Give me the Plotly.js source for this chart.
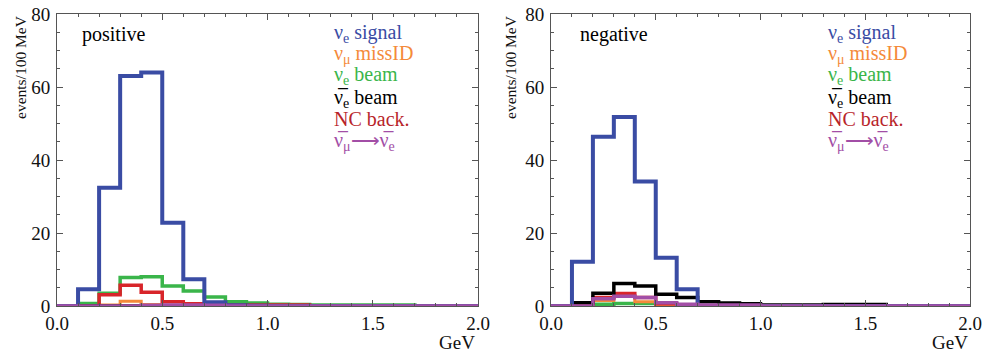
<!DOCTYPE html>
<html><head><meta charset="utf-8">
<script src="https://cdn.plot.ly/plotly-3.0.1.min.js"></script>
<style>html,body{margin:0;padding:0;background:#fff}#c{width:983px;height:356px}</style>
</head><body><div id="c"></div>
<script>
// bin edges 0.0 .. 2.0 step 0.1 (GeV)
const binEdges = [0.0,0.1,0.2,0.3,0.4,0.5,0.6,0.7,0.8,0.9,1.0,1.1,1.2,1.3,1.4,1.5,1.6,1.7,1.8,1.9,2.0];

// positive panel (events/100 MeV per bin)
const posSignal  = [0,4.6,32.4,63.0,64.0,22.8,7.3,1.0,0.2,0.1,0,0,0,0,0,0,0,0,0,0];
const posMissID  = [0,0.1,0.3,1.3,0.4,0.1,0,0,0,0,0,0,0,0,0,0,0,0,0,0];
const posNueBeam = [0,0.7,3.5,7.8,8.0,5.5,4.1,2.5,1.2,0.8,0.5,0.4,0.3,0.3,0.3,0.3,0.3,0,0,0];
const posNuebBeam= [0,0,0,0,0,0,0,0,0,0,0,0,0,0,0,0,0,0,0,0];
const posNC      = [0,0,3.1,5.7,3.8,1.2,0.6,0.4,0.3,0.3,0.3,0.3,0,0,0,0,0,0,0,0];
const posAppear  = [0,0,0,0,0.2,0.3,0.3,0.2,0,0,0,0,0,0,0,0,0,0,0,0];

// negative panel
const negSignal  = [0,12.1,46.4,51.8,34.1,13.2,4.6,0,0,0,0,0,0,0,0,0,0,0,0,0];
const negMissID  = [0,0,1.5,2.8,1.2,0.3,0,0,0,0,0,0,0,0,0,0,0,0,0,0];
const negNueBeam = [0,0,0.5,0.7,0.7,0.3,0,0,0,0,0,0,0,0,0,0,0,0,0,0];
const negNuebBeam= [0,0.9,3.5,6.2,5.5,3.2,2.3,1.2,0.8,0.6,0.3,0.3,0.3,0.4,0.4,0.4,0,0,0,0];
const negNC      = [0,0,2.3,3.4,2.3,0.6,0.2,0,0,0,0,0,0,0,0,0,0,0,0,0];
const negAppear  = [0,0,2.0,2.7,2.3,0.9,0.5,0.3,0.3,0.3,0,0,0,0,0,0,0,0,0,0];

const xTicks = [0.0,0.5,1.0,1.5,2.0];
const xTickText = ['0.0','0.5','1.0','1.5','2.0'];
const yTicks = [0,20,40,60,80];
const panelLabels = ['positive','negative'];

const cBlue='#3a4ca4', cOrange='#f48a3a', cGreen='#3ab54a', cBlack='#000000', cRed='#d8252a', cPurple='#a24ea6';
const serif = 'Liberation Serif';

function step(vals){ return vals.concat([vals[vals.length-1]]); }
function tr(vals, color, w, xa, ya){
  return {x: binEdges, y: step(vals), type:'scatter', mode:'lines', line:{shape:'hv', color:color, width:w},
          xaxis:xa, yaxis:ya, hoverinfo:'skip', showlegend:false};
}
const traces = [];
[[posNueBeam,posMissID,posNC,posNuebBeam,posSignal,posAppear,'x','y'],
 [negNueBeam,negMissID,negNC,negNuebBeam,negSignal,negAppear,'x2','y2']].forEach(p=>{
  traces.push(tr(p[0],cGreen,3.5,p[6],p[7]));
  traces.push(tr(p[1],cOrange,3,p[6],p[7]));
  traces.push(tr(p[2],cRed,3.5,p[6],p[7]));
  traces.push(tr(p[3],cBlack,3.5,p[6],p[7]));
  traces.push(tr(p[4],cBlue,4,p[6],p[7]));
  traces.push(tr(p[5],cPurple,3.5,p[6],p[7]));
});

function xax(dom, anchor){
  return {domain:dom, anchor:anchor, range:[0,2], tickvals:xTicks, ticktext:xTickText, ticks:'inside', ticklen:6,
    tickcolor:'#555', showline:true, linecolor:'#555', linewidth:1, mirror:'ticks', showgrid:false, zeroline:false,
    tickfont:{family:serif, size:19, color:'#111'},
    minor:{dtick:0.1, ticks:'inside', ticklen:3, tickcolor:'#555', showgrid:false}};
}
function yax(anchor){
  return {domain:[0.1404,0.9607], anchor:anchor, range:[0,80], tickvals:yTicks, ticks:'inside', ticklen:6,
    tickcolor:'#555', showline:true, linecolor:'#555', linewidth:1, mirror:'ticks', showgrid:false, zeroline:false,
    tickfont:{family:serif, size:19, color:'#111'}, ticklabelstandoff:2,
    minor:{dtick:5, ticks:'inside', ticklen:3, tickcolor:'#555', showgrid:false}};
}

const legendItems = [
  ['ν<sub>e</sub> signal', '#3a4ca4'],
  ['ν<sub>μ</sub> missID', '#f48a3a'],
  ['ν<sub>e</sub> beam', '#3ab54a'],
  ['ν̅<sub>e</sub> beam', '#000000'],
  ['NC back.', '#b8242a'],
  ['ν̅<sub>μ</sub>⟶ν̅<sub>e</sub>', '#a24ea6']
];
const legendY = [33, 54, 76, 98, 119, 141];
const annotations = [];
[['x','y',332,80,437,21],['x2','y2',826,578,930,511]].forEach((p,i)=>{
  annotations.push({xref:'paper', yref:'paper', x:p[3]/983, y:1-35/356, xanchor:'left', yanchor:'middle',
    text:panelLabels[i], showarrow:false, font:{family:serif, size:20, color:'#000'}});
  legendItems.forEach((it,k)=>{
    annotations.push({xref:'paper', yref:'paper', x:p[2]/983, y:1-legendY[k]/356, xanchor:'left', yanchor:'middle',
      text:it[0], showarrow:false, font:{family:serif, size:20, color:it[1]}});
  });
  annotations.push({xref:'paper', yref:'paper', x:p[4]/983, y:1-342/356, xanchor:'left', yanchor:'middle',
    text:'GeV', showarrow:false, font:{family:serif, size:19, color:'#111'}});
  annotations.push({xref:'paper', yref:'paper', x:p[5]/983, y:1-67/356, xanchor:'center', yanchor:'middle',
    text:'events/100 MeV', textangle:-90, showarrow:false, font:{family:serif, size:15.5, color:'#111'}});
});

const layout = {
  width:983, height:356, margin:{l:0,r:0,t:0,b:0}, paper_bgcolor:'#fff', plot_bgcolor:'#fff',
  font:{family:serif},
  xaxis: xax([57/983, 478/983],'y'), yaxis: yax('x'),
  xaxis2: xax([551/983, 970/983],'y2'), yaxis2: yax('x2'),
  annotations: annotations, showlegend:false
};
Plotly.newPlot('c', traces, layout, {displayModeBar:false, staticPlot:true});
</script></body></html>
